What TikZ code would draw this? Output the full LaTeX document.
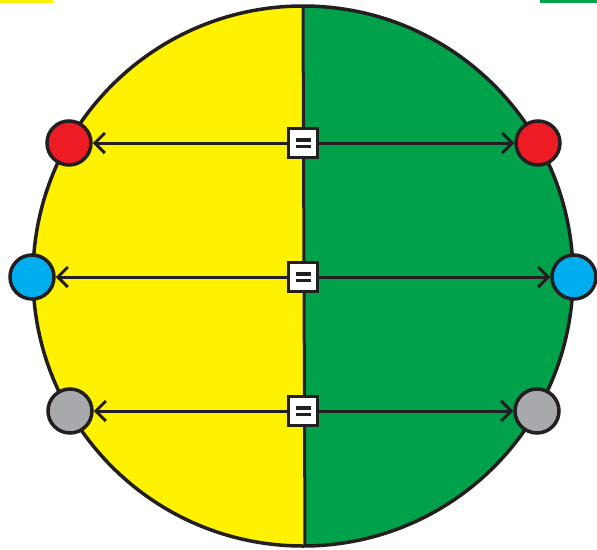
\documentclass[tikz,border=0pt]{standalone}
\usetikzlibrary{arrows.meta}
\definecolor{ylw}{HTML}{FFF200}
\definecolor{grn}{HTML}{00A14B}
\definecolor{rd}{HTML}{ED1C24}
\definecolor{bl}{HTML}{00AEEF}
\definecolor{gr}{HTML}{A7A9AC}
\definecolor{ink}{HTML}{231F20}
\begin{document}
\begin{tikzpicture}[x=1pt,y=-1pt,
  dot/.style={circle,draw=ink,line width=3.5pt,minimum size=44pt,inner sep=0pt},
  eqbox/.style={draw=ink,fill=white,line width=3.5pt,minimum size=29pt,inner sep=0pt},
  link/.style={draw=ink,line width=3pt,-{Straight Barb[length=10pt,width=20pt,line width=3pt]}}]
\useasboundingbox (0,0) rectangle (597,549);
\fill[ylw] (0,0) rectangle (53,2.5);
\fill[grn] (540,0) rectangle (597,2.5);
\begin{scope}
\clip (303,276) circle (270);
\fill[ylw] (0,0) rectangle (304,549);
\fill[grn] (304,0) rectangle (597,549);
\end{scope}
\draw[ink,line width=3.5pt] (303,276) circle (270);
\draw[ink,line width=3pt] (303,6) -- (305,546);
\foreach \y/\c/\xl/\xr/\n in {143/rd/69/538/a,277/bl/32/574/b,411/gr/70/537/c}{
  \node[dot,fill=\c] (l\n) at (\xl,\y) {};
  \node[dot,fill=\c] (r\n) at (\xr,\y) {};
  \node[eqbox] (e\n) at (303,\y) {};
  \draw[link] (e\n) -- (l\n);
  \draw[link] (e\n) -- (r\n);
  \fill[ink] ([xshift=-7.5pt,yshift=-5pt]e\n.center) rectangle ([xshift=7.5pt,yshift=-1.5pt]e\n.center);
  \fill[ink] ([xshift=-7.5pt,yshift=1.5pt]e\n.center) rectangle ([xshift=7.5pt,yshift=5pt]e\n.center);
}
\end{tikzpicture}
\end{document}
